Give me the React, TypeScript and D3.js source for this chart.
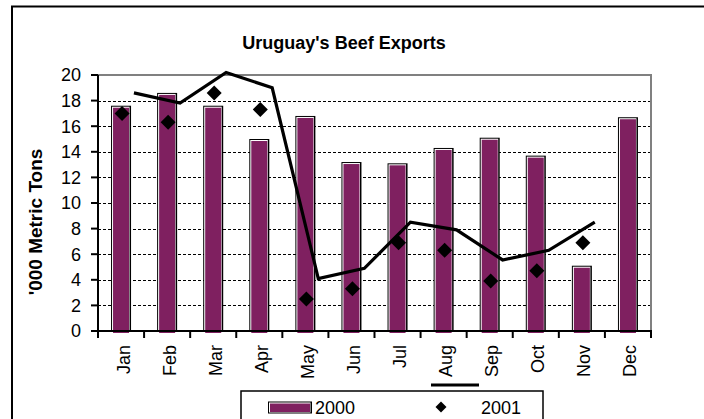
import React from "react";
import * as d3 from "d3";

const months = ["Jan", "Feb", "Mar", "Apr", "May", "Jun", "Jul", "Aug", "Sep", "Oct", "Nov", "Dec"];
const exports2000 = [17.6, 18.6, 17.6, 15.0, 16.8, 13.2, 13.1, 14.3, 15.1, 13.7, 5.1, 16.7];
const exports2001 = [17.0, 16.3, 18.6, 17.3, 2.5, 3.3, 6.9, 6.3, 3.9, 4.7, 6.9];
const lineSeries = [18.6, 17.8, 20.2, 19.0, 4.1, 4.9, 8.5, 7.9, 5.55, 6.3, 8.5];
const yTicks = [0, 2, 4, 6, 8, 10, 12, 14, 16, 18, 20];
const legendLabels = ["2000", "2001"];

const W = 704;
const H = 419;
const left = 98;
const right = 651;
const top = 75;
const bottom = 331;
const PURPLE = "#7f2060";
const FONT = "Arial, 'Liberation Sans', sans-serif";

export default function App() {
  const x = d3.scaleBand<string>().domain(months).range([left, right]).padding(0);
  const y = d3.scaleLinear().domain([0, 20]).range([bottom, top]);
  const bw = x.bandwidth();
  const barW = 20;
  const lineOffset = bw * 0.28;

  const linePath = d3
    .line<number>()
    .x((_, i) => (x(months[i]) as number) + bw / 2 + lineOffset)
    .y((d) => y(d))(lineSeries) as string;

  const diamond = (cx: number, cy: number, r: number) =>
    `M${cx},${cy - r}L${cx + r},${cy}L${cx},${cy + r}L${cx - r},${cy}Z`;

  return (
    <svg
      width={W}
      height={H}
      style={{ position: "absolute", left: 0, top: 0, background: "#fff" }}
      fontFamily={FONT}
    >
      {/* outer frame */}
      <path d="M12,440V6.5H720" fill="none" stroke="#000" strokeWidth={2} />

      {/* title */}
      <text x={344} y={49} textAnchor="middle" fontWeight="bold" fontSize={18}>
        Uruguay's Beef Exports
      </text>

      {/* gridlines */}
      {yTicks
        .filter((t) => t > 0 && t < 20)
        .map((t) => (
          <line
            key={"g" + t}
            x1={left}
            x2={right}
            y1={Math.round(y(t)) + 0.5}
            y2={Math.round(y(t)) + 0.5}
            stroke="#000"
            strokeWidth={1}
            strokeDasharray="3,2"
          />
        ))}
      {/* plot area top/right border */}
      <path d={`M${left},${top}H${right}V${bottom}`} fill="none" stroke="#808080" strokeWidth={2} />

      {/* bars */}
      {exports2000.map((v, i) => {
        const cx = (x(months[i]) as number) + bw / 2;
        const x0 = cx - barW / 2;
        const yt = y(v);
        const h = bottom - yt;
        return (
          <g key={"b" + i}>
            <rect x={x0} y={yt} width={barW} height={h} fill="#000" />
            <rect x={x0 + 1} y={yt + 1} width={barW - 2.5} height={h} fill="#fff" />
            <rect x={x0 + 2} y={yt + 2} width={barW - 4} height={h} fill={PURPLE} />
          </g>
        );
      })}

      {/* line */}
      <path d={linePath} fill="none" stroke="#000" strokeWidth={3.2} strokeLinejoin="miter" />

      {/* diamonds */}
      {exports2001.map((v, i) => {
        const cx = (x(months[i]) as number) + bw / 2 + 1;
        return <path key={"d" + i} d={diamond(cx, y(v), 7.5)} fill="#000" />;
      })}

      {/* y axis */}
      <line x1={left} x2={left} y1={top} y2={bottom + 1} stroke="#000" strokeWidth={2} />
      {yTicks.map((t) => (
        <g key={"yt" + t}>
          <line x1={91} x2={left} y1={y(t)} y2={y(t)} stroke="#000" strokeWidth={2} />
          <text x={81} y={y(t)} dy="0.36em" textAnchor="end" fontSize={18}>
            {t}
          </text>
        </g>
      ))}

      {/* x axis */}
      <line x1={left - 7} x2={right + 1} y1={bottom} y2={bottom} stroke="#000" strokeWidth={2} />
      {d3.range(months.length + 1).map((i) => {
        const xx = left + i * bw;
        return <line key={"xt" + i} x1={xx} x2={xx} y1={bottom} y2={bottom + 7} stroke="#000" strokeWidth={2} />;
      })}
      {months.map((m) => {
        const cx = (x(m) as number) + bw / 2 + 2;
        return (
          <text
            key={"xl" + m}
            transform={`translate(${cx},345) rotate(-90)`}
            textAnchor="end"
            dy="0.36em"
            fontSize={18}
          >
            {m}
          </text>
        );
      })}

      {/* y axis title */}
      <text
        transform="translate(35,222) rotate(-90)"
        textAnchor="middle"
        dy="0.36em"
        fontWeight="bold"
        fontSize={19}
      >
        '000 Metric Tons
      </text>

      {/* stray legend line for the line series */}
      <line x1={431} x2={479} y1={385} y2={385} stroke="#000" strokeWidth={3} />

      {/* legend */}
      <rect x={241} y={391} width={302} height={40} fill="#fff" stroke="#000" strokeWidth={1.5} />
      <rect x={268} y={401.5} width={44} height={12} fill="#000" />
      <rect x={269} y={402.5} width={41.5} height={10} fill="#fff" />
      <rect x={270} y={403.5} width={40} height={8.5} fill={PURPLE} />
      <text x={315} y={414} fontSize={18}>
        {legendLabels[0]}
      </text>
      <path d={diamond(441, 407, 5.5)} fill="#000" />
      <text x={481} y={414} fontSize={18}>
        {legendLabels[1]}
      </text>
    </svg>
  );
}
